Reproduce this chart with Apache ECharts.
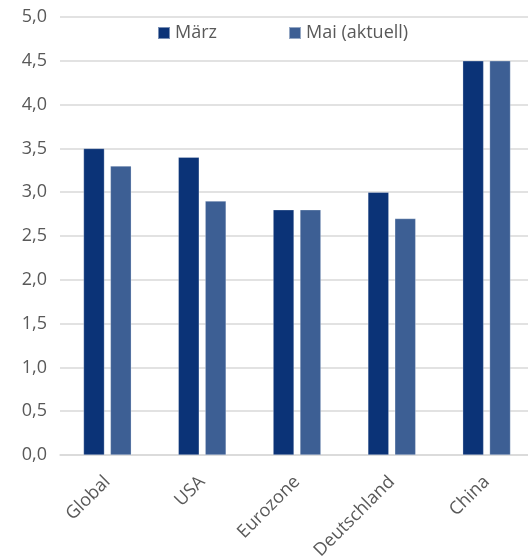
<!DOCTYPE html>
<html>
<head>
<meta charset="utf-8">
<script src="https://cdn.jsdelivr.net/npm/echarts@6/dist/echarts.min.js"></script>
<style>html,body{margin:0;padding:0;background:#fff}#c{width:528px;height:558px}</style>
</head>
<body>
<div id="c"></div>
<script>
const categories = ['Global', 'USA', 'Eurozone', 'Deutschland', 'China'];
const maerz = [3.5, 3.4, 2.8, 3.0, 4.5];
const mai = [3.3, 2.9, 2.8, 2.7, 4.5];
const seriesNames = ['März', 'Mai (aktuell)'];

const font = '"Open Sans", sans-serif';
const chart = echarts.init(document.getElementById('c'), null, {renderer: 'canvas'});
chart.setOption({
  animation: false,
  textStyle: {fontFamily: font},
  grid: {left: 60, right: -6, top: 17, bottom: 103, outerBoundsMode: 'none', containLabel: false},
  legend: [
    {data: [seriesNames[0]], left: 157, top: 24, padding: 0, itemWidth: 12, itemHeight: 12, itemGap: 5,
     icon: 'rect', textStyle: {fontSize: 18, color: '#595959', fontFamily: font}},
    {data: [seriesNames[1]], left: 288, top: 24, padding: 0, itemWidth: 12, itemHeight: 12, itemGap: 5,
     icon: 'rect', textStyle: {fontSize: 18, color: '#595959', fontFamily: font}}
  ],
  xAxis: {
    type: 'category',
    data: categories,
    axisLine: {show: true, lineStyle: {color: '#d9d9d9', width: 1.5}},
    axisTick: {show: false},
    axisLabel: {rotate: 45, fontSize: 18, color: '#595959', margin: 24, fontFamily: font}
  },
  yAxis: {
    type: 'value',
    min: 0, max: 5, interval: 0.5,
    axisLine: {show: false},
    axisTick: {show: false},
    splitLine: {lineStyle: {color: '#d9d9d9', width: 1.5}},
    axisLabel: {fontSize: 18, color: '#595959', margin: 13, fontFamily: font,
      formatter: v => v.toFixed(1).replace('.', ',')}
  },
  series: [
    {name: seriesNames[0], type: 'bar', data: maerz, barWidth: 21, barGap: '28%',
     itemStyle: {color: '#0b3377', borderColor: 'rgba(255,255,255,0.45)', borderWidth: 0.6}},
    {name: seriesNames[1], type: 'bar', data: mai, barWidth: 21, barGap: '28%',
     itemStyle: {color: '#3d5f94', borderColor: 'rgba(255,255,255,0.45)', borderWidth: 0.6}}
  ]
});
</script>
</body>
</html>
